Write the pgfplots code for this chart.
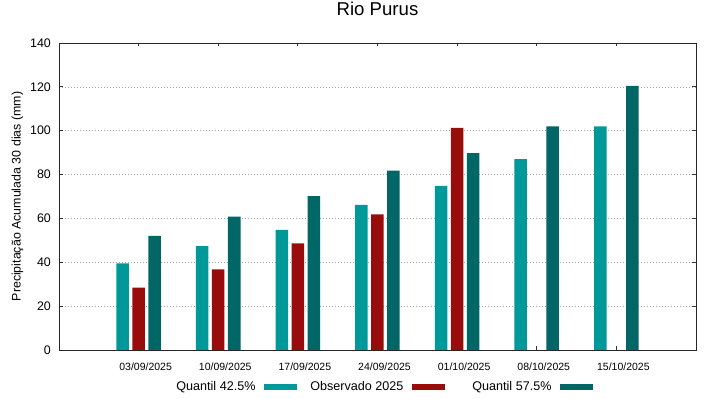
\documentclass[border=0pt]{standalone}
\usepackage{fontspec}
\setmainfont{Liberation Sans}
\usepackage{pgfplots}
\pgfplotsset{compat=1.18}
\definecolor{qlo}{RGB}{0,153,153}
\definecolor{obs}{RGB}{153,12,12}
\definecolor{qhi}{RGB}{0,102,102}
\begin{document}
\begin{tikzpicture}
\path[use as bounding box] (0,0) rectangle (719bp,399bp);
\begin{axis}[
  at={(59bp,49bp)}, anchor=south west,
  scale only axis, width=637bp, height=307bp,
  xmin=-1, xmax=7, ymin=0, ymax=140,
  xtick={0,...,6},
  xticklabels={03/09/2025,10/09/2025,17/09/2025,24/09/2025,01/10/2025,08/10/2025,15/10/2025},
  ytick={0,20,...,140},
  tick align=inside, xtick pos=both, ytick pos=both,
  major tick length=3.5bp,
  tick style={black!80, line width=0.8bp},
  ymajorgrids,
  grid style={gray!70, dash pattern=on 1bp off 2bp, line width=0.6bp},
  axis line style={black!85, line width=0.9bp},
  /pgf/number format/assume math mode=true,
  yticklabel style={font=\fontsize{12.4bp}{14bp}\selectfont, anchor=east, inner sep=0pt, xshift=-8bp},
  xticklabel style={font=\fontsize{10.5bp}{12bp}\selectfont, anchor=north, inner sep=0pt, yshift=-13bp, xshift=7bp},
  title={Rio Purus},
  title style={font=\fontsize{18.6bp}{20bp}\selectfont, at={(0.5,1)}, anchor=base, yshift=22bp, inner sep=0pt},
  ylabel={Precipitação Acumulada 30 dias (mm)},
  ylabel style={font=\fontsize{12.4bp}{14bp}\selectfont, at={(axis description cs:-0.0652,0.5)}, anchor=center, inner sep=0pt},
  legend columns=3, legend plot pos=right, legend cell align=right,
  legend style={at={(axis description cs:0.4953,-0.1205)}, anchor=center, draw=none, fill=none, inner sep=0pt, column sep=8bp, font=\fontsize{12.6bp}{14bp}\selectfont, nodes={inner sep=0pt}},
]
\addplot[ybar, bar width=12.5bp, bar shift=-16bp, fill=qlo, draw=none,
  legend image code/.code={\fill[qlo] (0bp,-2.7bp) rectangle (33bp,2.7bp);}]
  coordinates {(0,39.5) (1,47.4) (2,54.8) (3,66.2) (4,74.9) (5,87.0) (6,102.0)};
\addlegendentry{\makebox[99bp][r]{Quantil 42.5\%}}
\addplot[ybar, bar width=12.5bp, bar shift=0bp, fill=obs, draw=none,
  legend image code/.code={\fill[obs] (0bp,-2.7bp) rectangle (33bp,2.7bp);}]
  coordinates {(0,28.5) (1,36.8) (2,48.6) (3,61.8) (4,101.3)};
\addlegendentry{\makebox[99bp][r]{Observado 2025}}
\addplot[ybar, bar width=12.5bp, bar shift=16bp, fill=qhi, draw=none,
  legend image code/.code={\fill[qhi] (0bp,-2.7bp) rectangle (33bp,2.7bp);}]
  coordinates {(0,52.1) (1,60.8) (2,70.2) (3,81.8) (4,89.8) (5,102.0) (6,120.4)};
\addlegendentry{\makebox[99bp][r]{Quantil 57.5\%}}
\end{axis}
\end{tikzpicture}
\end{document}
